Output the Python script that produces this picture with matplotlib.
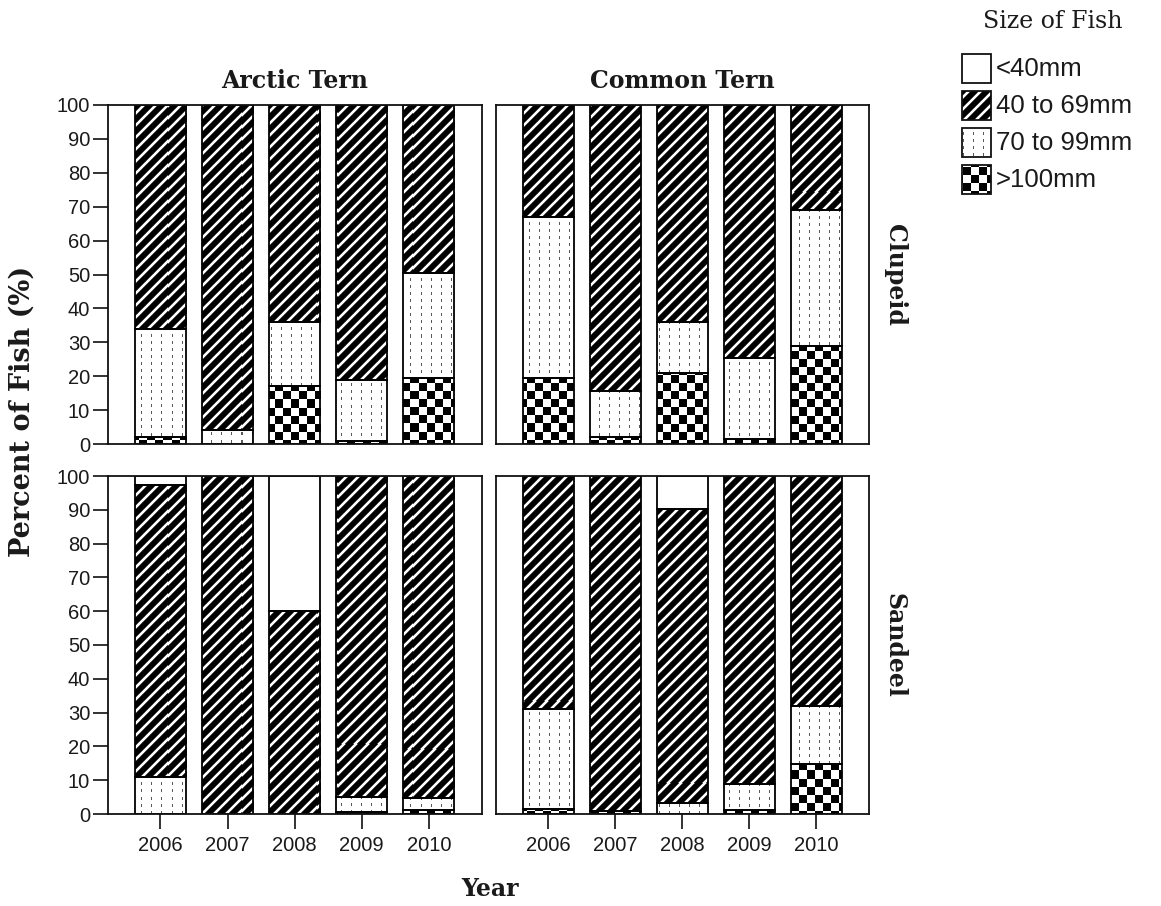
import numpy as np
import matplotlib
matplotlib.use("Agg")
import matplotlib.pyplot as plt
from matplotlib.patches import Rectangle

# ---------------- data (percent of fish) ----------------
years = ["2006", "2007", "2008", "2009", "2010"]
size_classes = ["<40mm", "40 to 69mm", "70 to 99mm", ">100mm"]
terns = ["Arctic Tern", "Common Tern"]
prey_types = ["Clupeid", "Sandeel"]

arctic_clupeid_gt100 = [2.0, 0.0, 17.0, 1.0, 19.5]
arctic_clupeid_70_99 = [32.0, 4.0, 19.0, 18.0, 31.0]
arctic_clupeid_40_69 = [66.0, 96.0, 64.0, 81.0, 49.5]
arctic_clupeid_lt40 = [0.0, 0.0, 0.0, 0.0, 0.0]

common_clupeid_gt100 = [19.5, 2.0, 21.0, 1.5, 29.0]
common_clupeid_70_99 = [47.5, 13.5, 15.0, 24.0, 40.0]
common_clupeid_40_69 = [33.0, 84.5, 64.0, 74.5, 31.0]
common_clupeid_lt40 = [0.0, 0.0, 0.0, 0.0, 0.0]

arctic_sandeel_gt100 = [0.0, 0.0, 0.0, 0.5, 1.2]
arctic_sandeel_70_99 = [10.8, 0.0, 0.0, 4.5, 3.5]
arctic_sandeel_40_69 = [86.5, 100.0, 60.0, 95.0, 95.3]
arctic_sandeel_lt40 = [2.7, 0.0, 40.0, 0.0, 0.0]

common_sandeel_gt100 = [1.4, 1.0, 0.0, 1.2, 14.7]
common_sandeel_70_99 = [29.6, 0.0, 3.2, 7.6, 17.3]
common_sandeel_40_69 = [69.0, 99.0, 87.0, 91.2, 68.0]
common_sandeel_lt40 = [0.0, 0.0, 9.8, 0.0, 0.0]

y_ticks = list(range(0, 101, 10))

# ---------------- figure ----------------
W, H, DPI = 1161, 906, 100
fig = plt.figure(figsize=(W / DPI, H / DPI), dpi=DPI)
fig.patch.set_facecolor("white")

TXT = "#1a1a1a"
SANS = ["Liberation Sans", "DejaVu Sans"]
SERIF = ["DejaVu Serif"]


def px_axes(x0, y0, x1, y1):
    return fig.add_axes([x0 / W, 1 - y1 / H, (x1 - x0) / W, (y1 - y0) / H])


# texture generators (pixel based)
def pat_stripes(h, w):
    i, j = np.mgrid[0:h, 0:w]
    d = (i + j) % 12
    img = np.zeros((h, w))
    img[d < 3] = 1.0
    img[(d == 3) | (d == 11)] = 0.35
    return img


def pat_dots(h, w):
    i, j = np.mgrid[0:h, 0:w]
    img = np.ones((h, w))
    img[(j % 10 == 4) & (i % 7 < 3)] = 0.35
    return img


def pat_checker(h, w):
    i, j = np.mgrid[0:h, 0:w]
    return np.where(((i // 8) + (j // 8)) % 2 == 0, 0.0, 1.0)


def pat_white(h, w):
    return None


patterns = {"<40mm": pat_white, "40 to 69mm": pat_stripes,
            "70 to 99mm": pat_dots, ">100mm": pat_checker}


def add_texture(ax, patch, cls):
    fn = patterns[cls]
    bb = ax.bbox
    h, w = int(round(bb.height)), int(round(bb.width))
    img = fn(h + 2, w + 2)
    if img is None:
        return
    x0, x1 = ax.get_xlim()
    y0, y1 = ax.get_ylim()
    dx = (x1 - x0) / bb.width
    dy = (y1 - y0) / bb.height
    # shift by a quarter pixel so nearest-neighbour sampling is unambiguous
    ext = (x0 - 1.25 * dx, x1 + 0.75 * dx, y0 - 0.75 * dy, y1 + 1.25 * dy)
    im = ax.imshow(img, extent=ext, origin="upper", cmap="gray",
                   vmin=0, vmax=1, interpolation="nearest", aspect="auto",
                   zorder=2)
    im.set_clip_path(patch)
    ax.set_xlim(x0, x1)
    ax.set_ylim(y0, y1)


panel_data = {
    ("Clupeid", "Arctic Tern"): [arctic_clupeid_gt100, arctic_clupeid_70_99,
                                 arctic_clupeid_40_69, arctic_clupeid_lt40],
    ("Clupeid", "Common Tern"): [common_clupeid_gt100, common_clupeid_70_99,
                                 common_clupeid_40_69, common_clupeid_lt40],
    ("Sandeel", "Arctic Tern"): [arctic_sandeel_gt100, arctic_sandeel_70_99,
                                 arctic_sandeel_40_69, arctic_sandeel_lt40],
    ("Sandeel", "Common Tern"): [common_sandeel_gt100, common_sandeel_70_99,
                                 common_sandeel_40_69, common_sandeel_lt40],
}
stack_order = [">100mm", "70 to 99mm", "40 to 69mm", "<40mm"]

col_x = [(108, 482), (496, 869)]
row_y = [(105, 444), (476, 814)]
BAR_W = 0.76
x = np.arange(len(years))

for r, prey in enumerate(prey_types):
    for c, tern in enumerate(terns):
        ax = px_axes(col_x[c][0], row_y[r][0], col_x[c][1], row_y[r][1])
        ax.set_xlim(-0.78, 4.79)
        ax.set_ylim(0, 100)
        series = panel_data[(prey, tern)]
        bottom = np.zeros(len(years))
        for cls, vals in zip(stack_order, series):
            vals = np.asarray(vals, dtype=float)
            for k in range(len(years)):
                if vals[k] <= 0:
                    continue
                bars = ax.bar(x[k], vals[k], bottom=bottom[k], width=BAR_W,
                              color="white", edgecolor="none", zorder=1)
                add_texture(ax, bars[0], cls)
                ax.bar(x[k], vals[k], bottom=bottom[k], width=BAR_W,
                       fill=False, edgecolor="black", linewidth=1.3, zorder=4)
            bottom = bottom + vals
        for s in ax.spines.values():
            s.set_color("#111111")
            s.set_linewidth(1.3)
            s.set_zorder(5)
        ax.set_yticks(y_ticks)
        ax.set_xticks(x)
        ax.tick_params(axis="both", direction="out", length=10.8, width=1.2,
                       color="#111111", labelcolor=TXT, labelsize=14.5)
        ax.tick_params(axis="y", pad=2)
        ax.tick_params(axis="x", pad=5)
        if c == 0:
            ax.set_yticklabels([str(t) for t in y_ticks], fontfamily=SANS)
        else:
            ax.tick_params(axis="y", left=False, labelleft=False)
        if r == 1:
            ax.set_xticklabels(years, fontfamily=SANS)
        else:
            ax.tick_params(axis="x", bottom=False, labelbottom=False)

# ---------------- labels ----------------
for c, tern in enumerate(terns):
    fig.text((col_x[c][0] + col_x[c][1]) / 2 / W, 1 - 81 / H, tern,
             ha="center", va="center", fontfamily=SERIF, fontweight="bold",
             fontsize=17, color=TXT)
for r, prey in enumerate(prey_types):
    fig.text(895 / W, 1 - (row_y[r][0] + row_y[r][1]) / 2 / H, prey,
             ha="center", va="center", rotation=-90, fontfamily=SERIF,
             fontweight="bold", fontsize=17, color=TXT)
fig.text(490 / W, 1 - 889 / H, "Year", ha="center", va="center",
         fontfamily=SERIF, fontweight="bold", fontsize=17, color=TXT)
fig.text(22 / W, 1 - 411 / H, "Percent of Fish (%)", ha="center", va="center",
         rotation=90, fontfamily=SERIF, fontweight="bold", fontsize=19.5,
         color=TXT)

# ---------------- legend ----------------
lax = px_axes(940, 0, 1161, 210)
lax.set_xlim(940, 1161)
lax.set_ylim(210, 0)
lax.axis("off")
lax.text(1053, 22, "Size of Fish", ha="center", va="center",
         fontfamily=SERIF, fontsize=17, color=TXT)
box_tops = [54, 91, 128, 165]
for cls, top in zip(size_classes, box_tops):
    rect = Rectangle((962, top), 29, 29, facecolor="white", edgecolor="none",
                     zorder=1)
    lax.add_patch(rect)
    add_texture(lax, rect, cls)
    lax.add_patch(Rectangle((962, top), 29, 29, fill=False,
                            edgecolor="#111111", linewidth=1.3, zorder=4))
    lax.text(996, top + 15, cls, ha="left", va="center", fontfamily=SANS,
             fontsize=18.5, color=TXT)
lax.set_xlim(940, 1161)
lax.set_ylim(210, 0)

fig.savefig("out.png", dpi=DPI, facecolor="white")
